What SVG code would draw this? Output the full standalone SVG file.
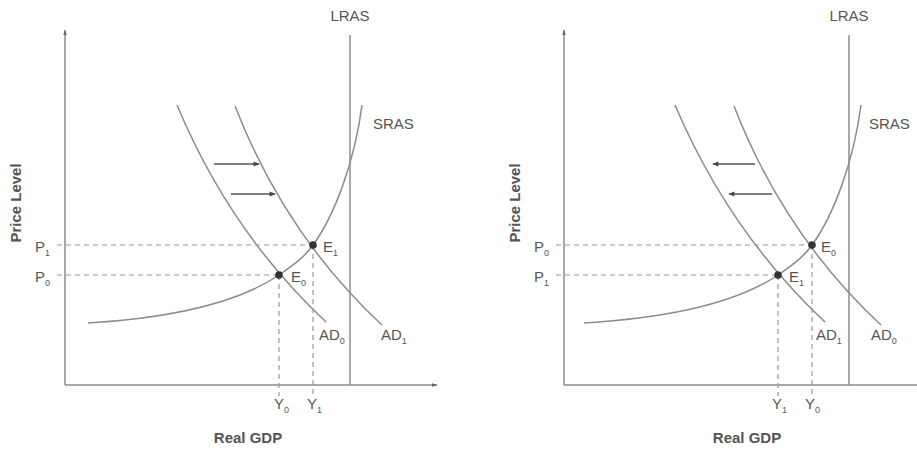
<svg xmlns="http://www.w3.org/2000/svg" width="917" height="450" viewBox="0 0 917 450">
<defs>
<style>
.ax{stroke:#8c8c8c;stroke-width:1.5;fill:none}
.cv{stroke:#8c8c8c;stroke-width:1.5;fill:none}
.ds{stroke:#999;stroke-width:1.2;fill:none;stroke-dasharray:5,4}
.sh{stroke:#555;stroke-width:1.3;fill:none}
.dot{fill:#333}
text{font-family:"Liberation Sans",Arial,sans-serif;fill:#555;font-size:15px}
.ttl{font-weight:bold;font-size:15px}
.sub{font-size:9px}
</style>
<marker id="ah" viewBox="0 0 10 10" refX="9" refY="5" markerWidth="7" markerHeight="6" orient="auto" markerUnits="userSpaceOnUse">
<path d="M0,1 L10,5 L0,9 z" fill="#444"/>
</marker>
<marker id="axh" viewBox="0 0 10 10" refX="9" refY="5" markerWidth="6" markerHeight="6" orient="auto" markerUnits="userSpaceOnUse">
<path d="M0,2 L10,5 L0,8 z" fill="#666"/>
</marker>
</defs>

<!-- LEFT PANEL -->
<g id="left-axes">
<line class="ax" x1="65" y1="385" x2="65" y2="30" marker-end="url(#axh)"/>
<line class="ax" x1="65" y1="385" x2="437" y2="385" marker-end="url(#axh)"/>
</g>
<g id="left-lras">
<line class="cv" x1="350" y1="35" x2="350" y2="385"/>
<text x="350" y="21" text-anchor="middle">LRAS</text>
</g>
<g id="left-sras">
<path class="cv" d="M88,323 Q220,315 279,275 C298,262 306,255 313,245 C335,215 355,160 362,105"/>
<text x="373" y="129">SRAS</text>
</g>
<g id="left-ad0">
<path class="cv" d="M177,105 Q230,232 326,322"/>
<text x="319" y="340">AD<tspan class="sub" dy="4">0</tspan></text>
</g>
<g id="left-ad1">
<path class="cv" d="M235,106 Q285,235 382,325"/>
<text x="381" y="340">AD<tspan class="sub" dy="4">1</tspan></text>
</g>
<g id="left-connectors">
<line class="sh" x1="214" y1="164" x2="259" y2="164" marker-end="url(#ah)"/>
<line class="sh" x1="231" y1="194" x2="275" y2="194" marker-end="url(#ah)"/>
<path class="ds" d="M57,245 H313 M57,275 H279 M279,275 V396 M313,245 V396"/>
</g>
<g id="left-e1">
<circle class="dot" cx="313" cy="245" r="3.8"/>
<text x="323" y="252">E<tspan class="sub" dy="4">1</tspan></text>
</g>
<g id="left-e0">
<circle class="dot" cx="279" cy="275" r="3.8"/>
<text x="291" y="282">E<tspan class="sub" dy="4">0</tspan></text>
</g>
<g id="left-labels">
<text x="35" y="252">P<tspan class="sub" dy="4">1</tspan></text>
<text x="35" y="282">P<tspan class="sub" dy="4">0</tspan></text>
<text x="274" y="409">Y<tspan class="sub" dy="4">0</tspan></text>
<text x="307" y="409">Y<tspan class="sub" dy="4">1</tspan></text>
<text class="ttl" x="248" y="443" text-anchor="middle">Real GDP</text>
<text class="ttl" transform="translate(21,203) rotate(-90)" text-anchor="middle">Price Level</text>
</g>

<!-- RIGHT PANEL -->
<g id="right-axes">
<line class="ax" x1="564" y1="385" x2="564" y2="30" marker-end="url(#axh)"/>
<line class="ax" x1="564" y1="385" x2="917" y2="385"/>
</g>
<g id="right-lras">
<line class="cv" x1="849" y1="35" x2="849" y2="385"/>
<text x="849" y="21" text-anchor="middle">LRAS</text>
</g>
<g id="right-sras">
<path class="cv" d="M584,323 Q719,315 778,275 C797,262 805,255 812,245 C834,215 854,160 861,105"/>
<text x="869" y="129">SRAS</text>
</g>
<g id="right-ad1">
<path class="cv" d="M675,105 Q729,232 825,322"/>
<text x="816" y="340">AD<tspan class="sub" dy="4">1</tspan></text>
</g>
<g id="right-ad0">
<path class="cv" d="M734,106 Q784,235 881,325"/>
<text x="871" y="340">AD<tspan class="sub" dy="4">0</tspan></text>
</g>
<g id="right-connectors">
<line class="sh" x1="755" y1="164" x2="713" y2="164" marker-end="url(#ah)"/>
<line class="sh" x1="772" y1="194" x2="729" y2="194" marker-end="url(#ah)"/>
<path class="ds" d="M556,245 H812 M556,275 H778 M778,275 V396 M812,245 V396"/>
</g>
<g id="right-e0">
<circle class="dot" cx="812" cy="245" r="3.8"/>
<text x="821" y="252">E<tspan class="sub" dy="4">0</tspan></text>
</g>
<g id="right-e1">
<circle class="dot" cx="778" cy="275" r="3.8"/>
<text x="789" y="282">E<tspan class="sub" dy="4">1</tspan></text>
</g>
<g id="right-labels">
<text x="534" y="252">P<tspan class="sub" dy="4">0</tspan></text>
<text x="534" y="282">P<tspan class="sub" dy="4">1</tspan></text>
<text x="772" y="409">Y<tspan class="sub" dy="4">1</tspan></text>
<text x="805" y="409">Y<tspan class="sub" dy="4">0</tspan></text>
<text class="ttl" x="747" y="443" text-anchor="middle">Real GDP</text>
<text class="ttl" transform="translate(520,203) rotate(-90)" text-anchor="middle">Price Level</text>
</g>
</svg>
